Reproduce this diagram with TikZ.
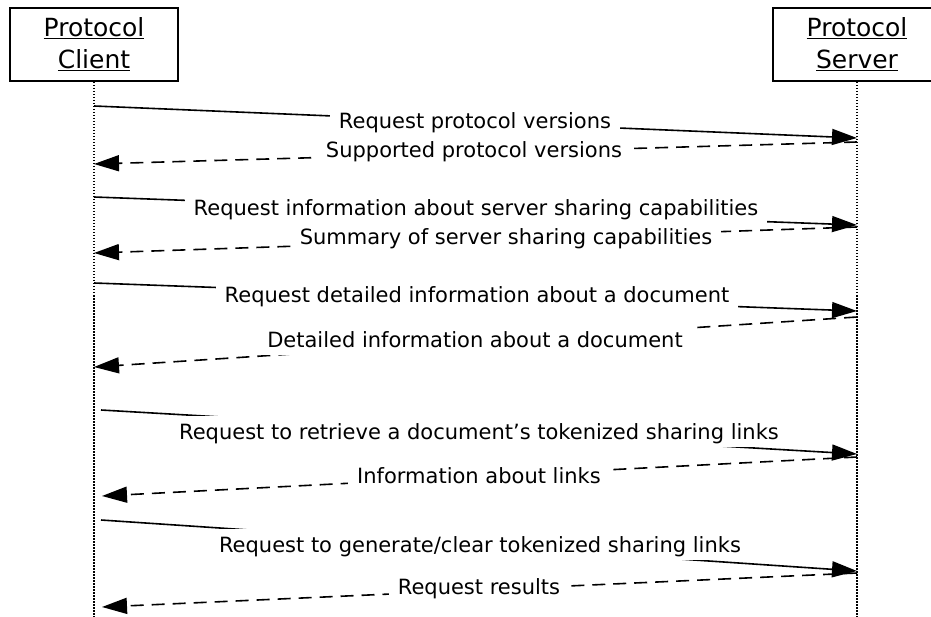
\documentclass[tikz,border=0pt]{standalone}
\usepackage{fontspec}
\setmainfont{DejaVu Sans}
\usetikzlibrary{arrows.meta, positioning, calc}
\tikzset{
  every picture/.style={line width=1.6pt},
  actor/.style={draw, line width=2pt, minimum width=168pt, minimum height=73pt, align=center, inner sep=0pt, font=\fontsize{25}{32}\selectfont},
  lifeline/.style={line width=1.5pt, dash pattern=on 1.5pt off 1.5pt},
  req/.style={-{Triangle[length=25pt, width=16pt]}},
  reply/.style={req, dash pattern=on 13pt off 8pt},
  msg/.style={fill=white, inner xsep=9pt, inner ysep=3pt, text height=20pt, text depth=5pt, anchor=base, font=\fontsize{21}{25}\selectfont},
}

\begin{document}
\begin{tikzpicture}[x=1pt, y=-1pt]
  \useasboundingbox (0,0) rectangle (931,617);
  % actors and their lifelines
  \node[actor] (client) at (94,44.5) {\underline{Protocol}\\\underline{Client}};
  \node[actor] (server) at (857,44.5) {\underline{Protocol}\\\underline{Server}};
  \coordinate (cend) at (94,617);
  \coordinate (send) at (857,617);
  \draw[lifeline] (client) -- (cend);
  \draw[lifeline] (server) -- (send);
  % requests and replies
  \foreach \n/\xa/\ya/\yb in {1/94/106/138, 3/94/197/225, 5/94/283/311, 7/101/410/454, 9/101/520/571} {
    \coordinate (c\n) at (\xa,\ya); \coordinate (s\n) at (857,\yb); \draw[req] (c\n) -- (s\n); }
  \foreach \n/\xa/\ya/\yb in {2/94/164/142, 4/94/253/227, 6/94/367/317, 8/102/496/457, 10/102/607/573} {
    \coordinate (s\n) at (857,\yb); \coordinate (c\n) at (\xa,\ya); \draw[reply] (s\n) -- (c\n); }
  % message labels
  \node[msg] (m1)  at (475,129) {Request protocol versions};
  \node[msg] (m2)  at (474,158) {Supported protocol versions};
  \node[msg] (m3)  at (476,216) {Request information about server sharing capabilities};
  \node[msg] (m4)  at (506,245) {Summary of server sharing capabilities};
  \node[msg] (m5)  at (477,303) {Request detailed information about a document};
  \node[msg] (m6)  at (475,347) {Detailed information about a document};
  \node[msg] (m7)  at (479,439) {Request to retrieve a document’s tokenized sharing links};
  \node[msg] (m8)  at (479,483) {Information about links};
  \node[msg] (m9)  at (480,552) {Request to generate/clear tokenized sharing links};
  \node[msg] (m10) at (479,594) {Request results};
\end{tikzpicture}
\end{document}
